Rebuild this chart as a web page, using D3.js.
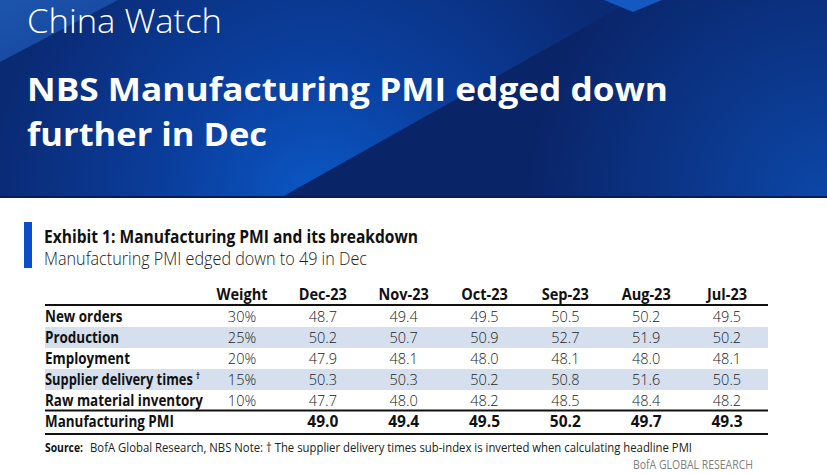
<!DOCTYPE html>
<html>
<head>
<meta charset="utf-8">
<script src="https://cdn.jsdelivr.net/npm/d3@7"></script>
<style>
  body { margin: 0; background: #fff; }
  svg { display: block; }
</style>
</head>
<body>
<div id="chart"></div>
<script>
// ---------- data ----------
const kicker = "China Watch";
const titleLines = ["NBS Manufacturing PMI edged down", "further in Dec"];
const exhibitTitle = "Exhibit 1: Manufacturing PMI and its breakdown";
const exhibitSubtitle = "Manufacturing PMI edged down to 49 in Dec";
const weightHeader = "Weight";
const months = ["Dec-23", "Nov-23", "Oct-23", "Sep-23", "Aug-23", "Jul-23"];
const components = ["New orders", "Production", "Employment", "Supplier delivery times", "Raw material inventory"];
const weights = ["30%", "25%", "20%", "15%", "10%"];
const newOrders = [48.7, 49.4, 49.5, 50.5, 50.2, 49.5];
const production = [50.2, 50.7, 50.9, 52.7, 51.9, 50.2];
const employment = [47.9, 48.1, 48.0, 48.1, 48.0, 48.1];
const supplierDelivery = [50.3, 50.3, 50.2, 50.8, 51.6, 50.5];
const rawMaterial = [47.7, 48.0, 48.2, 48.5, 48.4, 48.2];
const totalLabel = "Manufacturing PMI";
const manufacturingPMI = [49.0, 49.4, 49.5, 50.2, 49.7, 49.3];
const sourceBold = "Source:";
const sourceText = "BofA Global Research, NBS Note: \u2020 The supplier delivery times sub-index is inverted when calculating headline PMI";
const brand = "BofA GLOBAL RESEARCH";

const componentValues = [newOrders, production, employment, supplierDelivery, rawMaterial];
const daggerRow = "Supplier delivery times";

// ---------- setup ----------
const W = 827, H = 473;
const svg = d3.select("#chart").append("svg").attr("width", W).attr("height", H);
const defs = svg.append("defs");

function fitWidth(sel, target) {
  sel.attr("textLength", target).attr("lengthAdjust", "spacingAndGlyphs");
}
function condenseBy(sel, k) {
  sel.each(function () {
    const w = this.getComputedTextLength();
    d3.select(this).attr("textLength", w * k).attr("lengthAdjust", "spacingAndGlyphs");
  });
}

// ---------- banner ----------
const bannerH = 198;
const rg1 = defs.append("radialGradient").attr("id", "bandGrad")
  .attr("gradientUnits", "userSpaceOnUse").attr("cx", 320).attr("cy", 205).attr("r", 330);
rg1.append("stop").attr("offset", 0).attr("stop-color", "#0b58c6");
rg1.append("stop").attr("offset", 0.45).attr("stop-color", "#0a3f9e");
rg1.append("stop").attr("offset", 1).attr("stop-color", "#0a2a74");

const rg2 = defs.append("radialGradient").attr("id", "rightGrad")
  .attr("gradientUnits", "userSpaceOnUse").attr("cx", 827).attr("cy", 200).attr("r", 300);
rg2.append("stop").attr("offset", 0).attr("stop-color", "#0c47a8");
rg2.append("stop").attr("offset", 1).attr("stop-color", "#0a2468");

const lg3 = defs.append("linearGradient").attr("id", "cornerGrad")
  .attr("x1", 0).attr("y1", 0).attr("x2", 1).attr("y2", 1);
lg3.append("stop").attr("offset", 0).attr("stop-color", "#1d55ad");
lg3.append("stop").attr("offset", 1).attr("stop-color", "#14439a");

const banner = svg.append("g");
banner.append("rect").attr("width", W).attr("height", bannerH).attr("fill", "url(#rightGrad)");
banner.append("polygon").attr("points", "0,62 118,0 633,0 280,198 0,198").attr("fill", "url(#bandGrad)");
banner.append("polygon").attr("points", "0,0 118,0 0,62").attr("fill", "url(#cornerGrad)");
banner.append("polygon").attr("points", "604,0 662,0 633,12").attr("fill", "#1558c2");
banner.append("rect").attr("y", bannerH - 2).attr("width", W).attr("height", 2).attr("fill", "#081d55");

banner.append("text").attr("x", 27).attr("y", 33)
  .attr("font-family", "'Open Sans', 'DejaVu Sans', sans-serif").attr("font-weight", 300)
  .attr("font-size", 32.5).attr("fill", "#fff").text(kicker).call(fitWidth, 195);

const titleY = [101, 146];
const titleW = [641, 240];
titleLines.forEach((t, i) => {
  banner.append("text").attr("x", 27).attr("y", titleY[i])
    .attr("font-family", "'Open Sans', 'DejaVu Sans', sans-serif").attr("font-weight", 700)
    .attr("font-size", 33).attr("fill", "#fff").text(t).call(fitWidth, titleW[i]);
});

// ---------- exhibit heading ----------
svg.append("rect").attr("x", 24).attr("y", 222).attr("width", 8).attr("height", 46).attr("fill", "#0b4fc8");
svg.append("text").attr("x", 44).attr("y", 243)
  .attr("font-family", "'Open Sans', sans-serif").attr("font-weight", 700).attr("font-size", 18.5)
  .attr("fill", "#111").text(exhibitTitle).call(fitWidth, 374);
svg.append("text").attr("x", 44).attr("y", 265)
  .attr("font-family", "'Open Sans', sans-serif").attr("font-weight", 300).attr("font-size", 18)
  .attr("fill", "#222").text(exhibitSubtitle).call(fitWidth, 323);

// ---------- table ----------
const tableLeft = 45, tableRight = 768;
const columns = [weightHeader].concat(months);
const x = d3.scalePoint().domain(columns).range([242, 727]);
const y = d3.scaleBand().domain(components).range([306, 411]);
const fmt = d3.format(".1f");
const fontFam = "'Open Sans', 'Liberation Sans', sans-serif";

const table = svg.append("g");

// stripes
table.selectAll("rect.stripe").data(components.filter((d, i) => i % 2 === 1)).join("rect")
  .attr("class", "stripe").attr("x", tableLeft).attr("width", tableRight - tableLeft)
  .attr("y", d => y(d)).attr("height", y.bandwidth()).attr("fill", "#d5dfee");

// header
const hdr = table.selectAll("text.hdr").data(columns).join("text")
  .attr("class", "hdr").attr("x", d => x(d)).attr("y", 300).attr("text-anchor", "middle")
  .attr("font-family", fontFam).attr("font-weight", 700).attr("font-size", 16.5).attr("fill", "#111")
  .text(d => d);
condenseBy(hdr, 0.88);

// rules
const rules = [{ y: 305, w: 2 }, { y: 410.5, w: 2 }, { y: 434, w: 2 }];
table.selectAll("line.rule").data(rules).join("line")
  .attr("x1", tableLeft).attr("x2", tableRight).attr("y1", d => d.y).attr("y2", d => d.y)
  .attr("stroke", "#111").attr("stroke-width", d => d.w);

// row labels
const lbl = table.selectAll("text.lbl").data(components).join("text")
  .attr("class", "lbl").attr("x", tableLeft).attr("y", d => y(d) + y.bandwidth() / 2 + 5.5)
  .attr("font-family", fontFam).attr("font-weight", 700).attr("font-size", 15.5).attr("fill", "#111")
  .text(d => d);
// reference width: "Raw material inventory" ~158px
const refNode = lbl.filter(d => d === "Raw material inventory").node();
const kLbl = 158 / refNode.getComputedTextLength();
condenseBy(lbl.filter(d => d !== daggerRow), kLbl);
condenseBy(lbl.filter(d => d === daggerRow), kLbl * 0.96);
// dagger superscript, placed just after the label
const dagLbl = lbl.filter(d => d === daggerRow);
const daggerX = tableLeft + parseFloat(dagLbl.attr("textLength")) + 3;
table.append("text").attr("x", daggerX)
  .attr("y", y(daggerRow) + y.bandwidth() / 2 - 1)
  .attr("font-family", fontFam).attr("font-weight", 700).attr("font-size", 8.5).attr("fill", "#111")
  .text("\u2020");

// weights
table.selectAll("text.wt").data(components).join("text")
  .attr("class", "wt").attr("x", x(weightHeader)).attr("y", d => y(d) + y.bandwidth() / 2 + 5)
  .attr("text-anchor", "middle").attr("font-family", fontFam).attr("font-weight", 300)
  .attr("font-size", 14.5).attr("fill", "#222")
  .text((d, i) => weights[i]);

// component values
components.forEach((c, ri) => {
  table.selectAll(null).data(componentValues[ri]).join("text")
    .attr("x", (d, i) => x(months[i])).attr("y", y(c) + y.bandwidth() / 2 + 5)
    .attr("text-anchor", "middle").attr("font-family", fontFam).attr("font-weight", 300)
    .attr("font-size", 14.5).attr("fill", "#222")
    .text(d => fmt(d));
});

// total row
const totY = 427;
const totLbl = table.append("text").attr("x", tableLeft).attr("y", totY)
  .attr("font-family", fontFam).attr("font-weight", 700).attr("font-size", 15.5).attr("fill", "#111")
  .text(totalLabel);
condenseBy(totLbl, kLbl);
table.selectAll("text.tot").data(manufacturingPMI).join("text")
  .attr("class", "tot").attr("x", (d, i) => x(months[i])).attr("y", totY)
  .attr("text-anchor", "middle").attr("font-family", fontFam).attr("font-weight", 700)
  .attr("font-size", 15.5).attr("fill", "#111")
  .text(d => fmt(d));

// ---------- source & brand ----------
svg.append("text").attr("x", 45).attr("y", 452)
  .attr("font-family", fontFam).attr("font-size", 13).attr("font-weight", 700).attr("fill", "#111")
  .text(sourceBold).call(fitWidth, 38);
svg.append("text").attr("x", 90).attr("y", 452)
  .attr("font-family", fontFam).attr("font-size", 13).attr("font-weight", 400).attr("fill", "#222")
  .text(sourceText).call(fitWidth, 602);

svg.append("text").attr("x", 753).attr("y", 469).attr("text-anchor", "end")
  .attr("font-family", fontFam).attr("font-size", 12.5).attr("fill", "#808080")
  .text(brand).call(fitWidth, 120);
</script>
</body>
</html>
